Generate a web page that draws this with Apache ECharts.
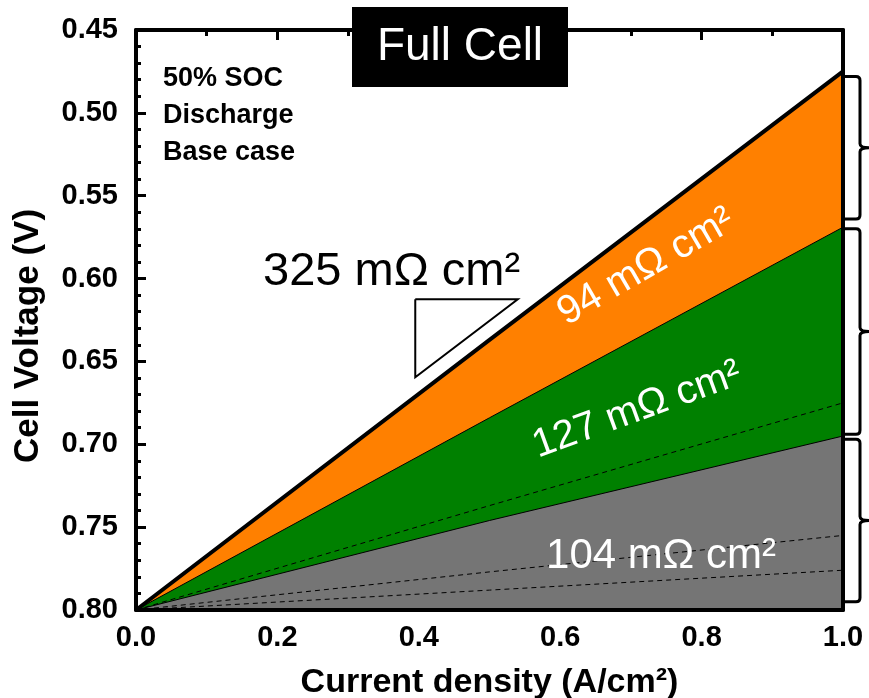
<!DOCTYPE html>
<html>
<head>
<meta charset="utf-8">
<title>Full Cell</title>
<script src="https://cdn.jsdelivr.net/npm/echarts@6/dist/echarts.min.js"></script>
<style>
  html, body { margin: 0; padding: 0; background: #fff; }
  #main { width: 869px; height: 698px; }
</style>
</head>
<body>
<div id="main"></div>
<script>
// data
const currentDensity = [0, 0.5, 1.0];
const fullCellV = [0.800, 0.637, 0.475];      // thick line, 325 mOhm cm2
const orangeGreenV = [0.800, 0.684, 0.569];   // below the 94 band
const greenGrayV = [0.800, 0.746, 0.695];     // below the 127 band
const greenDashV = [0.800, 0.737, 0.675];
const grayDashV1 = [0.800, 0.777, 0.755];
const grayDashV2 = [0.800, 0.788, 0.776];
const triangleX = [0.395, 0.540, 0.395, 0.395];
const triangleV = [0.6125, 0.6125, 0.6595, 0.6125];
const bracketTop = [0.478, 0.570, 0.697];
const bracketBottom = [0.564, 0.694, 0.795];
const xTicks = [0, 0.2, 0.4, 0.6, 0.8, 1.0];
const yTicks = [0.45, 0.50, 0.55, 0.60, 0.65, 0.70, 0.75, 0.80];

const FONT = 'Liberation Sans, Arial, sans-serif';

function pairs(xs, ys) {
  return xs.map((x, i) => [x, ys[i]]);
}

var chart = echarts.init(document.getElementById('main'), null, { renderer: 'canvas' });

// shared axis line look
const axisLine = { show: true, onZero: false, lineStyle: { color: '#000', width: 4 } };

function areaSeries(name, values, color, lineWidth) {
  return {
    name: name,
    type: 'line',
    data: pairs(currentDensity, values),
    showSymbol: false,
    symbol: 'none',
    lineStyle: { color: '#000', width: lineWidth },
    areaStyle: { color: color, opacity: 1, origin: 'end' },
    z: 2
  };
}

function dashSeries(values) {
  return {
    type: 'line',
    data: pairs(currentDensity, values),
    symbol: 'none',
    lineStyle: { color: '#000', width: 1, type: [5, 4] },
    z: 3
  };
}

var option = {
  animation: false,
  grid: { left: 136, right: 26, top: 30, bottom: 88, outerBoundsMode: 'none' },
  xAxis: [
    {
      type: 'value', position: 'bottom', min: 0, max: 1, interval: 0.2,
      axisLine: axisLine, axisTick: { show: false }, splitLine: { show: false },
      axisLabel: {
        color: '#000', fontFamily: FONT, fontWeight: 'bold', fontSize: 29, margin: 13,
        formatter: v => xTicks.indexOf(v) >= 0 ? v.toFixed(1) : ''
      },
      name: 'Current density (A/cm²)',
      nameLocation: 'middle', nameGap: 56,
      nameTextStyle: { color: '#000', fontFamily: FONT, fontWeight: 'bold', fontSize: 34 },
      z: 5
    },
    {
      type: 'value', position: 'top', min: 0, max: 1, interval: 0.2,
      axisLine: axisLine,
      axisTick: { show: true, inside: true, length: 10, lineStyle: { color: '#000', width: 3 } },
      minorTick: { show: true, splitNumber: 2, length: 6, lineStyle: { color: '#000', width: 3 } },
      axisLabel: { show: false }, splitLine: { show: false },
      z: 5
    }
  ],
  yAxis: [
    {
      type: 'value', position: 'left', inverse: true, min: 0.45, max: 0.80, interval: 0.05,
      axisLine: axisLine,
      axisTick: { show: true, inside: true, length: 10, lineStyle: { color: '#000', width: 3 } },
      minorTick: { show: true, splitNumber: 5, length: 5, lineStyle: { color: '#000', width: 3 } },
      splitLine: { show: false },
      axisLabel: {
        color: '#000', fontFamily: FONT, fontWeight: 'bold', fontSize: 29, margin: 18,
        formatter: v => v.toFixed(2)
      },
      name: 'Cell Voltage (V)',
      nameLocation: 'middle', nameGap: 90,
      nameTextStyle: { color: '#000', fontFamily: FONT, fontWeight: 'bold', fontSize: 35, padding: [0, 32, 0, 0] },
      z: 5
    },
    {
      type: 'value', position: 'right', inverse: true, min: 0.45, max: 0.80, interval: 0.05,
      axisLine: axisLine, axisTick: { show: false }, axisLabel: { show: false },
      splitLine: { show: false },
      z: 5
    }
  ],
  series: [
    areaSeries('94', fullCellV, '#ff8000', 0),
    areaSeries('127', orangeGreenV, '#008000', 1),
    areaSeries('104', greenGrayV, '#757575', 1),
    dashSeries(greenDashV),
    dashSeries(grayDashV1),
    dashSeries(grayDashV2),
    {
      name: '325',
      type: 'line',
      data: pairs(currentDensity, fullCellV),
      symbol: 'none',
      lineStyle: { color: '#000', width: 4 },
      z: 4
    },
    // slope triangle
    {
      type: 'line',
      data: pairs(triangleX, triangleV),
      symbol: 'none',
      lineStyle: { color: '#000', width: 2, join: 'miter' },
      z: 4
    },
    // braces on the right side
    {
      type: 'custom',
      clip: false,
      data: bracketTop.map((t, i) => [1.0, t, bracketBottom[i]]),
      renderItem: function (params, api) {
        const a = api.coord([api.value(0), api.value(1)]);
        const b = api.coord([api.value(0), api.value(2)]);
        const x0 = a[0] + 2, x1 = a[0] + 17, r = 4;
        const yT = a[1], yB = b[1], ym = (yT + yB) / 2;
        const d = 'M' + x0 + ',' + yT +
          ' L' + (x1 - r) + ',' + yT +
          ' Q' + x1 + ',' + yT + ' ' + x1 + ',' + (yT + r) +
          ' L' + x1 + ',' + (ym - r) +
          ' Q' + x1 + ',' + ym + ' ' + (x1 + 9) + ',' + ym +
          ' Q' + x1 + ',' + ym + ' ' + x1 + ',' + (ym + r) +
          ' L' + x1 + ',' + (yB - r) +
          ' Q' + x1 + ',' + yB + ' ' + (x1 - r) + ',' + yB +
          ' L' + x0 + ',' + yB;
        return {
          type: 'path',
          shape: { pathData: d },
          style: { stroke: '#000', lineWidth: 3, fill: null }
        };
      },
      z: 6
    }
  ],
  graphic: [
    { type: 'rect', left: 352, top: 7, shape: { width: 216, height: 80 }, style: { fill: '#000' }, z: 10 },
    {
      type: 'text', x: 460, y: 47, z: 11,
      style: { text: 'Full Cell', fill: '#fff', font: '46px ' + FONT, align: 'center', verticalAlign: 'middle' }
    },
    {
      type: 'text', x: 163, y: 60, z: 11,
      style: {
        text: '50% SOC\nDischarge\nBase case', fill: '#000', font: 'bold 27px ' + FONT,
        lineHeight: 37, align: 'left', verticalAlign: 'top'
      }
    },
    {
      type: 'text', x: 263, y: 272, z: 11,
      style: { text: '325 mΩ cm²', fill: '#000', font: '47px ' + FONT, align: 'left', verticalAlign: 'middle' }
    },
    {
      type: 'text', x: 646, y: 267, rotation: 30 * Math.PI / 180, z: 11,
      style: { text: '94 mΩ cm²', fill: '#fff', font: '40px ' + FONT, align: 'center', verticalAlign: 'middle' }
    },
    {
      type: 'text', x: 637, y: 410, rotation: 20 * Math.PI / 180, z: 11,
      style: { text: '127 mΩ cm²', fill: '#fff', font: '40px ' + FONT, align: 'center', verticalAlign: 'middle' }
    },
    {
      type: 'text', x: 661, y: 556, z: 11,
      style: { text: '104 mΩ cm²', fill: '#fff', font: '42px ' + FONT, align: 'center', verticalAlign: 'middle' }
    }
  ]
};

chart.setOption(option);
</script>
</body>
</html>
